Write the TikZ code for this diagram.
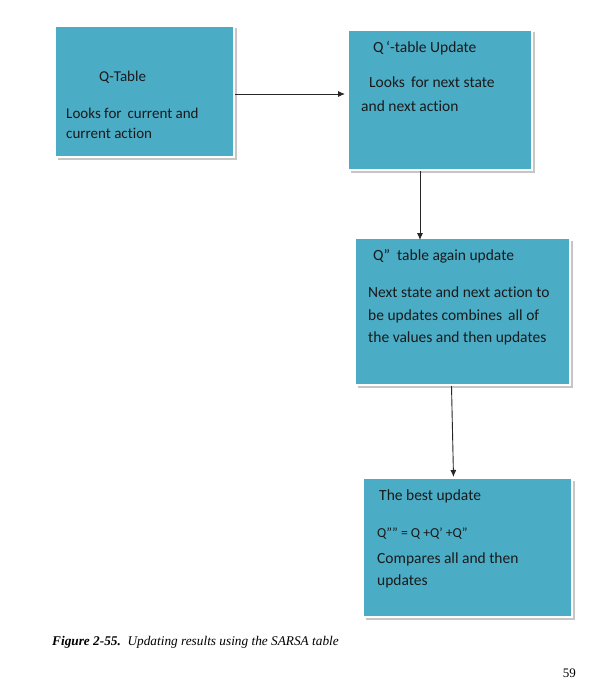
\documentclass[tikz,border=0pt]{standalone}
\usepackage{fontspec}
\setmainfont[Ligatures=NoCommon]{Carlito}
\newfontfamily\capfont{Liberation Serif}
\usetikzlibrary{shadows,calc,arrows.meta}
\definecolor{boxfill}{HTML}{4BACC6}
\definecolor{boxtext}{HTML}{1A1A1A}
\begin{document}
\begin{tikzpicture}[x=1pt,y=-1pt,
  qbox/.style={draw=white, line width=2pt, fill=boxfill, inner sep=0pt,
    drop shadow={shadow xshift=2.5pt, shadow yshift=-2.5pt, fill=gray!45, opacity=1}},
  txt/.style={anchor=base west, inner sep=0pt, text=boxtext, font=\fontsize{15.5}{18}\selectfont},
  txtA/.style={txt, font=\fontsize{15}{18}\selectfont},
  arr/.style={-{Latex[length=7pt,width=6pt]}, line width=0.9pt, black!85}]
\useasboundingbox[fill=white] (0,0) rectangle (599,690);
% boxes
\node[qbox, minimum width=179pt, minimum height=131pt] (b1) at (144.5,91.5) {};
\node[qbox, minimum width=184pt, minimum height=140pt] (b2) at (440,100) {};
\node[qbox, minimum width=215pt, minimum height=147pt] (b3) at (462.5,311.5) {};
\node[qbox, minimum width=209pt, minimum height=139pt] (b4) at (467.5,547.5) {};
% texts box 1
\node[txtA] (t11) at (99,82) {Q-Table};
\node[txtA] (t12) at (66,118) {Looks for\, current and};
\node[txtA] (t13) at (66,139) {current action};
% box 2
\node[txt] (t21) at (373,53) {Q\,‘-table Update};
\node[txt] (t22) at (369,88) {Looks\, for next state};
\node[txt] (t23) at (361,111) {and next action};
% box 3
\node[txt] (t31) at (373,260) {Q”\ \ table again update};
\node[txt] (t32) at (368,297) {Next state and next action to};
\node[txt] (t33) at (368,320) {be updates combines\, all of};
\node[txt] (t34) at (368,342) {the values and then updates};
% box 4
\node[txt] (t41) at (379,500) {The best update};
\node[txt, font=\fontsize{13.7}{16}\selectfont] (t42) at (377,537) {Q”” = Q +Q’ +Q”};
\node[txt] (t43) at (377,563) {Compares all and then};
\node[txt] (t44) at (377,585) {updates};
% connectors
\draw[arr] ($(b1.east)+(0,2.5)$) -- ($(b2.west)+(-2,-6)$);
\draw[arr] ($(b2.south)+(-20,0)$) -- ($(b3.north)+(-42.5,3)$);
\draw[arr] ($(b3.south)+(-11,0)$) -- ($(b4.north)+(-14,0)$);
% caption
\node[anchor=base west, inner sep=0pt, font=\capfont\fontsize{13.3}{15}\selectfont] (cap) at (52,645)
  {\textbf{\textit{Figure 2-55.}}\ \ \textit{Updating results using the SARSA table}};
\node[anchor=base east, inner sep=0pt, font=\capfont\fontsize{13}{15}\selectfont] (pg) at (576,677) {59};
\end{tikzpicture}
\end{document}
